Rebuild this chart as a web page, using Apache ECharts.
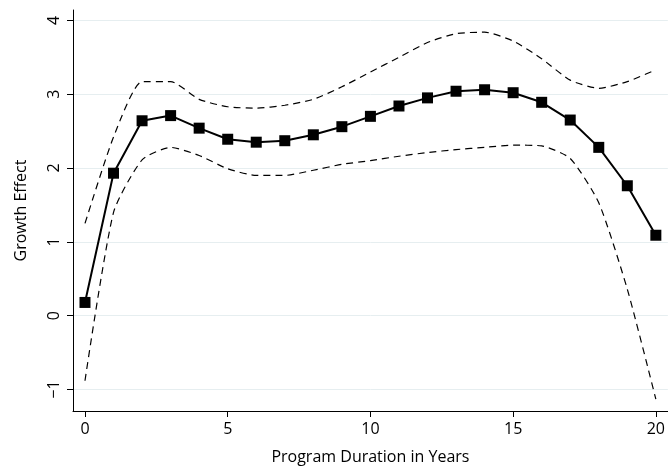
<!DOCTYPE html>
<html>
<head>
<meta charset="utf-8">
<script src="https://cdn.jsdelivr.net/npm/echarts@6/dist/echarts.min.js"></script>
<style>
  html, body { margin: 0; padding: 0; background: #fff; }
  #chart { width: 668px; height: 473px; }
</style>
</head>
<body>
<div id="chart"></div>
<script>
// program duration in years
var years = [0, 1, 2, 3, 4, 5, 6, 7, 8, 9, 10, 11, 12, 13, 14, 15, 16, 17, 18, 19, 20];
// point estimate
var effect = [0.18, 1.93, 2.64, 2.71, 2.54, 2.39, 2.35, 2.37, 2.45, 2.56, 2.70, 2.84, 2.95, 3.04, 3.06, 3.02, 2.89, 2.65, 2.28, 1.76, 1.09];
// confidence band
var upper = [1.25, 2.42, 3.17, 3.17, 2.93, 2.83, 2.81, 2.85, 2.93, 3.10, 3.30, 3.50, 3.70, 3.82, 3.84, 3.72, 3.48, 3.19, 3.08, 3.17, 3.33];
var lower = [-0.88, 1.40, 2.11, 2.28, 2.17, 1.99, 1.90, 1.90, 1.97, 2.05, 2.10, 2.16, 2.21, 2.25, 2.28, 2.31, 2.30, 2.13, 1.53, 0.36, -1.13];
var xTicks = [0, 5, 10, 15, 20];
var yTicks = [-1, 0, 1, 2, 3, 4];

function pairs(vals) {
    return years.map(function (x, i) { return [x, vals[i]]; });
}

var font = "'Open Sans', 'Noto Sans', sans-serif";
var chart = echarts.init(document.getElementById('chart'));

chart.setOption({
    backgroundColor: '#fff',
    animation: false,
    grid: { left: 73, right: 0, top: 10, bottom: 62, containLabel: false },
    xAxis: {
        type: 'value',
        min: -0.42, max: 20.42,
        name: 'Program Duration in Years',
        nameLocation: 'middle',
        nameGap: 38,
        nameTextStyle: { color: '#000', fontSize: 16, fontFamily: font },
        axisLine: { show: true, onZero: false, lineStyle: { color: '#000', width: 1 } },
        axisTick: { show: true, length: 6, customValues: xTicks, lineStyle: { color: '#000' } },
        axisLabel: { customValues: xTicks, color: '#000', fontSize: 16, fontFamily: font, margin: 10 },
        splitLine: { show: false }
    },
    yAxis: {
        type: 'value',
        min: -1.29, max: 4.14,
        name: 'Growth Effect',
        nameLocation: 'middle',
        nameGap: 44,
        nameRotate: 90,
        nameTextStyle: { color: '#000', fontSize: 16, fontFamily: font },
        axisLine: { show: true, onZero: false, lineStyle: { color: '#000', width: 1 } },
        axisTick: { show: true, length: 6, customValues: yTicks, lineStyle: { color: '#000' } },
        axisLabel: {
            customValues: yTicks, color: '#000', fontSize: 16, fontFamily: font, rotate: 90, margin: 11,
            formatter: function (v) { return v < 0 ? '\u2212' + Math.abs(v) : String(v); }
        },
        splitLine: { show: true, lineStyle: { color: '#e6eef0', width: 1 } }
    },
    series: [
        {
            name: 'upper', type: 'line', data: pairs(upper), symbol: 'none', smooth: 0.2,
            lineStyle: { color: '#000', width: 1.2, type: [7, 5] }, z: 2
        },
        {
            name: 'lower', type: 'line', data: pairs(lower), symbol: 'none', smooth: 0.2,
            lineStyle: { color: '#000', width: 1.2, type: [7, 5] }, z: 2
        },
        {
            name: 'effect', type: 'line', data: pairs(effect),
            symbol: 'rect', symbolSize: 11,
            itemStyle: { color: '#000' },
            lineStyle: { color: '#000', width: 2 }, z: 3
        }
    ]
});
</script>
</body>
</html>
